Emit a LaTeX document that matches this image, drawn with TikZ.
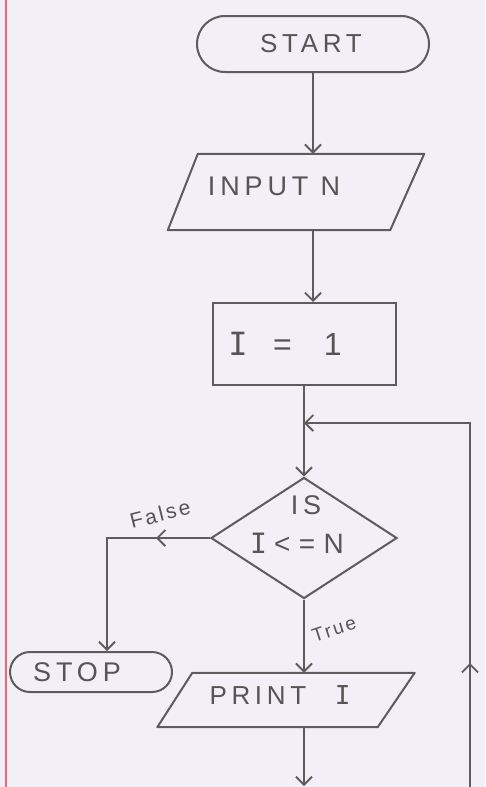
\documentclass[tikz,border=0pt]{standalone}
\usepackage{fontspec}
\setmainfont{Liberation Sans}[LetterSpace=18]
\newfontfamily\plainhand{Liberation Sans}[LetterSpace=12]
\newfontfamily\barI{DejaVu Sans Mono}
\usetikzlibrary{shapes.geometric,arrows.meta,decorations.markings}
\definecolor{paper}{RGB}{243,239,246}
\definecolor{pencil}{RGB}{92,92,92}
\definecolor{lead}{RGB}{85,85,85}
\definecolor{margin}{RGB}{240,100,115}
\newcommand{\bI}{{\barI I}}
\begin{document}
\begin{tikzpicture}[x=1pt,y=-1pt,
  >={Straight Barb[length=8pt,width=16pt]},
  flow/.style={draw=pencil,line width=1.9pt,->},
  midarrow/.style={postaction={decorate},decoration={markings,
      mark=at position #1 with {\arrow[pencil,line width=1.9pt]{>}}}},
  shapebox/.style={draw=pencil,line width=2pt,inner sep=0pt},
  termbox/.style={shapebox,rectangle},
  iobox/.style={rectangle,inner sep=0pt},
  ioline/.style={draw=pencil,line width=2pt,line join=round},
  decbox/.style={shapebox,diamond},
  hand/.style={text=lead,inner sep=0pt},
]
\fill[paper] (0,0) rectangle (485,787);
\useasboundingbox (0,0) rectangle (485,787);
\draw[margin,line width=1.5pt] (6,0) -- (6,787);

% shapes
\node[termbox,rounded corners=28pt,minimum width=232pt,minimum height=56pt] (start) at (313,44) {};
\node[iobox,minimum width=256pt,minimum height=76pt] (in) at (296,192) {};
\draw[ioline] ([xshift=30pt]in.north west) -- (in.north east) -- ([xshift=-34pt]in.south east) -- (in.south west) -- cycle;
\node[termbox,minimum width=183pt,minimum height=82pt] (i1) at (304,344) {};
\node[decbox,minimum width=186pt,minimum height=121pt] (dec) at (304,538) {};
\node[termbox,rounded corners=20pt,minimum width=162pt,minimum height=40pt] (stop) at (91,672) {};
\node[iobox,minimum width=257pt,minimum height=54pt] (print) at (286,700) {};
\draw[ioline] ([xshift=35pt]print.north west) -- (print.north east) -- ([xshift=-37pt]print.south east) -- (print.south west) -- cycle;

% texts
\node[hand,font=\fontsize{26}{26}\selectfont] (tstart) at (311,44) {START};
\node[hand,font=\fontsize{27}{27}\selectfont] (tin) at (274,186) {INPUT\hspace{0.45em}N};
\node[hand,font=\fontsize{32}{32}\selectfont] (ti1) at (285,344) {\bI\hspace{0.8em}=\hspace{1.0em}1};
\node[hand,font=\fontsize{27}{27}\selectfont] (tis) at (306,505) {IS};
\node[hand,font=\fontsize{28}{28}\selectfont] (tcond) at (297,543) {\bI\hspace{0.25em}<\hspace{0.3em}=\hspace{0.3em}N};
\node[hand,font=\fontsize{27}{27}\selectfont] (tstop) at (77,672) {STOP};
\node[hand,font=\fontsize{26}{26}\selectfont] (tprint) at (280,695) {PRINT\hspace{1.1em}\bI};
\node[hand,font=\plainhand\fontsize{21}{21}\selectfont,rotate=14] (tfalse) at (160,514) {False};
\node[hand,font=\plainhand\fontsize{19}{19}\selectfont,rotate=18] (ttrue) at (334,629) {True};

% coordinates
\coordinate (join) at (304,423);
\coordinate (corner) at (470,423);
\coordinate (botright) at (470,787);
\coordinate (fc) at (107,538);
\coordinate (bot) at (304,786);

% connectors
\draw[flow] (start.south) -- (start.south |- in.north);
\draw[flow] (start.south |- in.south) -- (start.south |- i1.north);
\draw[flow] (i1.south) -- (dec.north);
\draw[flow,midarrow=124pt] (botright) -- (corner) -- (join);
\draw[flow,midarrow=54pt] (dec.west) -- (fc) -- (fc |- stop.north);
\draw[flow] (dec.south) -- (dec.south |- print.north);
\draw[flow] (dec.south |- print.south) -- (bot);
\end{tikzpicture}
\end{document}
